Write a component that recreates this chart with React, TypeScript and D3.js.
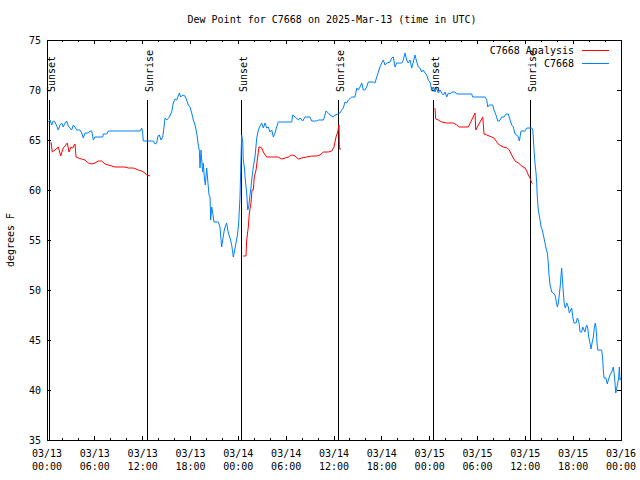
import React from "react";
import * as d3 from "d3";

const TITLE = "Dew Point for C7668 on 2025-Mar-13 (time in UTC)";
const Y_LABEL = "degrees F";
const START_UTC = Date.UTC(2025, 2, 13, 0, 0);
const SPAN_HOURS = 72;
const Y_MIN = 35;
const Y_MAX = 75;
const Y_TICKS = [35, 40, 45, 50, 55, 60, 65, 70, 75];
const LEGEND_LABELS = ["C7668 Analysis", "C7668"];

// hours since 2025-03-13 00:00 UTC
const stationHours = [
  0.16, 0.38, 0.59, 0.79, 1.0, 1.22, 1.42, 1.63, 1.84, 2.04, 2.26, 2.47, 2.67, 3.1, 3.3, 3.51, 3.73, 4.14, 4.35, 4.55,
  4.77, 5.18, 5.39, 5.61, 5.81, 6.02, 6.99, 7.06, 7.49, 7.69, 11.67, 11.88, 12.0, 12.08, 13.33, 13.55, 13.76, 13.92, 14.09, 14.3,
  14.51, 14.68, 14.8, 15.02, 15.34, 15.64, 15.84, 16.06, 16.27, 16.6, 16.77, 17.02, 17.31, 17.52, 17.72, 17.94, 18.15, 18.35, 18.57, 18.78,
  18.98, 19.1, 19.19, 19.32, 19.41, 19.53, 19.61, 19.73, 19.86, 20.03, 20.16, 20.32, 20.45, 20.53, 20.66, 20.79, 20.95, 21.49, 21.7, 21.83,
  21.91, 22.04, 22.2, 22.33, 22.54, 22.74, 22.96, 23.17, 23.37, 23.5, 23.71, 23.92, 24.05, 24.21, 24.34, 24.42, 24.55, 24.62, 24.75, 24.88,
  25.05, 25.18, 25.3, 25.46, 25.59, 25.72, 25.88, 26.09, 26.31, 26.51, 26.72, 26.93, 27.13, 27.35, 27.56, 27.76, 27.97, 28.19, 28.39, 28.6,
  28.81, 29.01, 30.7, 30.82, 31.11, 31.52, 31.74, 32.08, 32.36, 32.99, 33.2, 33.83, 34.03, 34.66, 34.79, 35.0, 35.29, 35.5, 35.91, 36.13,
  36.54, 36.75, 36.97, 37.17, 37.38, 37.59, 37.8, 38.22, 38.64, 38.85, 39.05, 39.26, 39.48, 39.68, 39.89, 40.1, 40.3, 40.93, 41.14, 41.36,
  41.56, 41.77, 41.99, 42.19, 42.4, 42.61, 43.03, 43.24, 43.44, 43.65, 43.87, 44.49, 44.69, 44.91, 45.12, 45.32, 45.54, 45.75, 45.95, 46.16,
  46.38, 46.58, 46.79, 47.0, 47.2, 47.42, 47.63, 47.83, 48.04, 48.26, 48.46, 48.67, 48.88, 49.09, 49.3, 49.51, 49.71, 49.93, 50.14, 50.34,
  50.55, 50.77, 51.18, 51.39, 53.27, 53.4, 54.94, 55.16, 55.28, 55.48, 55.91, 56.07, 56.32, 56.54, 56.74, 57.04, 57.33, 57.58, 57.87, 58.08,
  58.29, 58.49, 58.71, 58.92, 59.12, 59.25, 59.46, 59.96, 60.17, 60.8, 60.93, 61.0, 61.09, 61.21, 61.34, 61.43, 61.5, 61.63, 61.84, 61.97,
  62.13, 62.26, 62.47, 62.59, 62.76, 62.88, 62.97, 63.1, 63.31, 63.51, 63.72, 63.85, 64.01, 64.14, 64.26, 64.39, 64.48, 64.56, 64.64, 64.77,
  64.89, 65.02, 65.19, 65.39, 65.52, 65.69, 65.82, 65.95, 66.11, 66.36, 66.52, 66.65, 66.77, 66.86, 67.07, 67.2, 67.36, 67.49, 67.61, 67.7,
  67.83, 67.95, 68.11, 68.24, 68.37, 68.53, 68.65, 68.78, 68.87, 68.99, 69.08, 69.58, 69.71, 69.78, 69.87, 70.12, 70.28, 70.41, 70.62, 70.84,
  71.04, 71.16, 71.25, 71.34, 71.46, 71.59, 71.71, 71.79, 71.88, 72.0,
];
const stationValues = [
  66.8, 67.0, 66.5, 66.9, 66.8, 66.4, 66.0, 66.5, 66.7, 66.3, 66.7, 66.9, 66.4, 66.0, 66.5, 66.3, 66.0, 66.0, 65.7, 65.2,
  65.7, 65.7, 65.9, 65.9, 65.0, 65.3, 65.3, 65.6, 65.6, 65.9, 65.9, 66.2, 65.7, 64.9, 64.9, 64.6, 64.7, 65.4, 65.5, 65.0,
  65.3, 66.3, 67.2, 67.0, 67.3, 67.8, 68.7, 69.1, 69.0, 69.7, 69.3, 69.5, 69.4, 69.0, 68.5, 68.3, 67.7, 67.0, 66.5, 65.7,
  64.5, 64.0, 62.2, 64.0, 63.0, 61.8, 62.7, 61.3, 60.5, 62.2, 61.0, 59.5, 59.3, 57.0, 58.3, 57.7, 56.8, 56.8, 56.3, 55.0,
  54.3, 55.0, 55.8, 56.3, 56.7, 55.7, 55.2, 54.5, 53.3, 53.8, 54.7, 55.7, 56.8, 59.3, 63.3, 65.5, 64.8, 63.0, 62.3, 61.0,
  59.7, 58.0, 58.3, 59.5, 60.3, 61.3, 62.3, 63.3, 65.2, 66.0, 66.4, 66.7, 66.2, 66.7, 66.2, 66.3, 65.8, 66.0, 65.3, 65.7,
  66.3, 66.8, 66.8, 67.5, 67.3, 67.0, 67.2, 66.9, 67.3, 67.3, 66.9, 66.9, 67.0, 67.0, 67.3, 67.9, 67.7, 67.5, 67.3, 67.5,
  67.6, 67.7, 68.0, 68.2, 68.8, 68.7, 69.0, 69.3, 69.3, 70.2, 70.0, 70.3, 70.7, 70.0, 70.0, 70.3, 70.8, 70.8, 70.7, 71.3,
  71.8, 72.3, 72.7, 73.0, 72.5, 72.7, 72.8, 73.2, 73.3, 72.3, 72.7, 72.7, 73.0, 73.7, 73.0, 72.7, 73.0, 72.2, 72.8, 73.5,
  72.8, 72.3, 72.2, 71.8, 72.0, 71.7, 71.5, 71.0, 70.8, 70.0, 70.3, 69.8, 70.2, 69.7, 70.0, 69.7, 69.5, 69.8, 69.3, 69.7,
  69.6, 69.8, 69.8, 69.6, 69.6, 69.3, 69.3, 69.0, 68.3, 68.5, 68.5, 68.0, 67.5, 66.9, 66.9, 67.3, 67.3, 67.6, 67.6, 67.0,
  66.5, 66.3, 65.6, 65.5, 65.3, 64.9, 65.9, 65.9, 66.2, 66.2, 66.0, 65.2, 64.0, 62.7, 61.7, 60.7, 59.3, 58.0, 57.0, 56.3,
  56.0, 55.5, 54.7, 54.2, 53.7, 52.7, 51.5, 50.5, 49.8, 49.7, 49.5, 49.0, 48.3, 48.7, 49.5, 50.5, 51.5, 52.2, 51.2, 49.7,
  48.5, 48.2, 48.7, 48.3, 47.7, 48.0, 48.2, 47.3, 46.7, 46.7, 47.2, 47.0, 46.5, 45.8, 45.8, 46.3, 46.0, 45.8, 46.3, 46.5,
  46.2, 45.3, 44.7, 44.1, 44.7, 45.3, 46.2, 46.7, 46.2, 44.7, 44.0, 44.0, 43.0, 42.0, 41.2, 41.2, 40.6, 41.0, 41.5, 41.8,
  42.3, 41.5, 40.7, 39.7, 40.2, 40.7, 41.3, 42.3, 41.0, 41.2,
];

// null marks a gap between analysis segments
const analysisHours = [
  0.5, 0.66, 1.0, 1.42, 1.72, 2.04, 2.26, 2.55, 2.76, 3.01, 3.22, 3.51, 3.64, 3.93, 4.35, 4.77, 5.18, 5.61, 6.02, 6.44,
  6.86, 7.28, 7.69, 8.12, 8.53, 9.16, 9.78, 10.2, 10.83, 11.45, 11.88, 12.29, 12.51, 12.92, 18.0,
  24.62, 24.96, 25.05, 25.25, 25.38, 25.59, 25.72, 25.88, 26.0, 26.22, 26.38, 26.59, 26.72, 26.93, 27.13, 27.56, 28.19, 29.01, 29.44, 29.86,
  30.27, 30.7, 31.11, 31.52, 31.95, 32.58, 33.2, 33.83, 34.25, 34.66, 35.29, 35.71, 36.0, 36.25, 36.47, 36.63, 36.67, 36.88, 42.0,
  48.67, 48.76, 49.09, 49.51, 50.14, 50.97, 51.39, 51.72, 52.85, 53.27, 53.69, 53.78, 54.32, 54.66, 54.82, 55.16, 55.78, 56.07, 56.41, 56.74,
  57.24, 57.74, 57.99, 58.29, 58.71, 59.12, 59.55, 59.96, 60.17, 60.38, 60.59, 60.8, 60.93,
];
const analysisValues = [
  64.8, 63.8, 64.0, 64.3, 63.4, 64.2, 64.4, 64.7, 63.8, 64.3, 64.2, 64.6, 63.3, 63.2, 63.1, 63.0, 62.7, 62.6, 62.7, 62.9,
  62.9, 62.6, 62.5, 62.4, 62.3, 62.3, 62.3, 62.2, 62.2, 62.0, 61.9, 61.7, 61.5, 61.4, null,
  53.4, 53.4, 55.0, 56.3, 57.7, 58.7, 60.0, 60.0, 61.3, 62.0, 63.0, 64.3, 64.3, 64.2, 63.8, 63.3, 63.3, 63.3, 63.1, 63.2,
  63.3, 63.5, 63.4, 63.1, 63.2, 63.3, 63.4, 63.4, 63.5, 63.8, 63.8, 63.9, 64.3, 65.3, 65.8, 66.5, 64.1, 64.1, null,
  68.2, 67.1, 67.0, 66.8, 66.7, 66.7, 66.5, 66.3, 66.3, 67.0, 67.7, 66.0, 66.8, 67.3, 65.6, 65.5, 65.3, 65.2, 64.8, 64.5,
  64.3, 64.2, 64.0, 63.5, 62.9, 62.7, 62.4, 62.2, 61.9, 61.5, 61.2, 60.7, 60.6,
];

const sunsetHours = [0.29, 24.42, 48.46];
const sunriseHours = [12.58, 36.54, 60.59];
const SUN_LINE_TOP = 69;

const RED = "#ff0000";
const BLUE = "#0080ff";
const FONT = "'DejaVu Sans Mono', monospace";

const W = 640;
const H = 480;
const M = { left: 47, right: 621, top: 40, bottom: 440 };

const toDate = (h: number) => new Date(START_UTC + h * 3600 * 1000);

export default function App() {
  const x = d3
    .scaleUtc()
    .domain([toDate(0), toDate(SPAN_HOURS)])
    .range([M.left, M.right]);
  const y = d3.scaleLinear().domain([Y_MIN, Y_MAX]).range([M.bottom, M.top]);

  const majorTicks = x.ticks(d3.utcHour.every(6) as any);
  const minorTicks = x.ticks(d3.utcHour.every(2) as any);
  const fmtDay = d3.utcFormat("%m/%d");
  const fmtTime = d3.utcFormat("%H:%M");

  const line = d3
    .line<[number, number | null]>()
    .defined((d) => d[1] != null)
    .x((d) => x(toDate(d[0])))
    .y((d) => y(d[1] as number));

  const stationPath = line(stationHours.map((h, i) => [h, stationValues[i]]));
  const analysisPath = line(analysisHours.map((h, i) => [h, analysisValues[i]]));

  const sunEvents = [
    ...sunsetHours.map((h) => ({ h, label: "Sunset" })),
    ...sunriseHours.map((h) => ({ h, label: "Sunrise" })),
  ];

  const majLen = 4;
  const minLen = 2;

  return (
    <svg
      width={W}
      height={H}
      style={{ position: "absolute", left: 0, top: 0, background: "#fff" }}
      fontFamily={FONT}
      fontSize={10}
    >
      <rect x={0} y={0} width={W} height={H} fill="#fff" />
      <text x={332} y={23} textAnchor="middle" fill="#000">
        {TITLE}
      </text>
      <text transform={`translate(14,240) rotate(-90)`} textAnchor="middle" fill="#000">
        {Y_LABEL}
      </text>

      {/* y ticks */}
      {Y_TICKS.map((v) => (
        <g key={v} shapeRendering="crispEdges">
          <line x1={M.left} x2={M.left + majLen} y1={y(v)} y2={y(v)} stroke="#000" />
          <line x1={M.right} x2={M.right - majLen} y1={y(v)} y2={y(v)} stroke="#000" />
          <text x={41} y={y(v) + 3.5} textAnchor="end" fill="#000">
            {v}
          </text>
        </g>
      ))}

      {/* x ticks */}
      {minorTicks.map((t, i) => (
        <g key={"m" + i} shapeRendering="crispEdges">
          <line x1={x(t)} x2={x(t)} y1={M.bottom} y2={M.bottom - minLen} stroke="#000" />
          <line x1={x(t)} x2={x(t)} y1={M.top} y2={M.top + minLen} stroke="#000" />
        </g>
      ))}
      {majorTicks.map((t, i) => (
        <g key={"M" + i} shapeRendering="crispEdges">
          <line x1={x(t)} x2={x(t)} y1={M.bottom} y2={M.bottom - majLen} stroke="#000" />
          <line x1={x(t)} x2={x(t)} y1={M.top} y2={M.top + majLen} stroke="#000" />
          <text x={x(t)} y={457} textAnchor="middle" fill="#000">
            {fmtDay(t)}
          </text>
          <text x={x(t)} y={470} textAnchor="middle" fill="#000">
            {fmtTime(t)}
          </text>
        </g>
      ))}

      {/* sunrise / sunset markers */}
      {sunEvents.map((e, i) => (
        <g key={"s" + i}>
          <line
            x1={x(toDate(e.h))}
            x2={x(toDate(e.h))}
            y1={y(SUN_LINE_TOP)}
            y2={y(Y_MIN)}
            stroke="#000"
            shapeRendering="crispEdges"
          />
          <text
            transform={`translate(${x(toDate(e.h)) + 5.5},92) rotate(-90)`}
            textAnchor="start"
            fill="#000"
          >
            {e.label}
          </text>
        </g>
      ))}

      <path d={analysisPath || ""} fill="none" stroke={RED} strokeWidth={1} />
      <path d={stationPath || ""} fill="none" stroke={BLUE} strokeWidth={1} />

      {/* legend */}
      <text x={574} y={54} textAnchor="end" fill="#000">
        {LEGEND_LABELS[0]}
      </text>
      <line x1={582} x2={609} y1={50} y2={50} stroke={RED} shapeRendering="crispEdges" />
      <text x={574} y={66.5} textAnchor="end" fill="#000">
        {LEGEND_LABELS[1]}
      </text>
      <line x1={582} x2={609} y1={63} y2={63} stroke={BLUE} shapeRendering="crispEdges" />

      <rect
        x={M.left}
        y={M.top}
        width={M.right - M.left}
        height={M.bottom - M.top}
        fill="none"
        stroke="#000"
        shapeRendering="crispEdges"
      />
    </svg>
  );
}
